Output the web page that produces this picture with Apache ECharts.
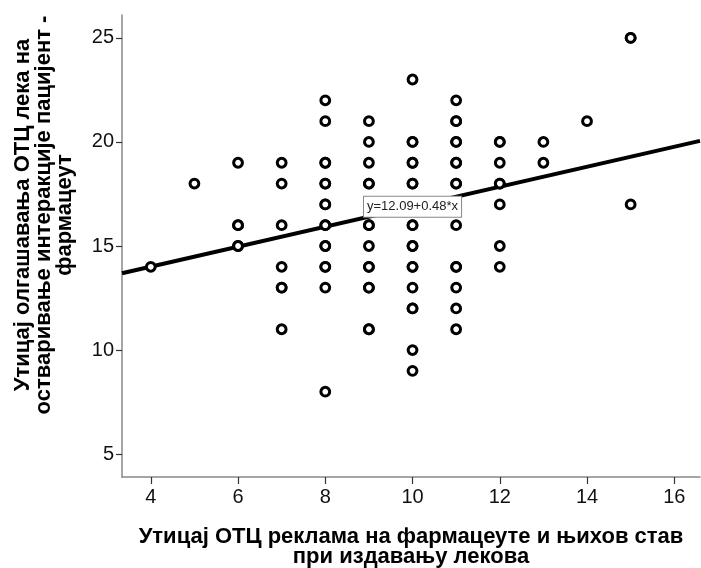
<!DOCTYPE html>
<html><head><meta charset="utf-8">
<script src="https://cdn.jsdelivr.net/npm/echarts@6/dist/echarts.min.js"></script>
<style>html,body{margin:0;padding:0;background:#fff}#c{width:701px;height:568px}</style>
</head><body><div id="c"></div>
<script>
// Observed points: [x, y, overlapCount]
const points = [
  [4,14,1],
  [5,18,1],
  [6,19,1],[6,16,2],[6,15,2],
  [7,19,1],[7,18,1],[7,16,1],[7,14,1],[7,13,2],[7,11,1],
  [8,22,1],[8,21,1],[8,19,2],[8,18,2],[8,17,2],[8,16,2],[8,15,2],[8,14,2],[8,13,1],[8,8,1],
  [9,21,1],[9,20,1],[9,19,1],[9,18,2],[9,16,2],[9,15,1],[9,14,2],[9,13,2],[9,11,2],
  [10,23,1],[10,20,2],[10,19,2],[10,18,2],[10,16,2],[10,15,2],[10,14,2],[10,13,1],[10,12,2],[10,10,1],[10,9,1],
  [11,22,1],[11,21,2],[11,20,2],[11,19,2],[11,18,2],[11,16,1],[11,14,2],[11,13,1],[11,12,1],[11,11,1],
  [12,20,2],[12,19,1],[12,18,2],[12,17,1],[12,15,1],[12,14,1],
  [13,20,1],[13,19,1],
  [14,21,1],
  [15,25,2],[15,17,1]
];
const fitIntercept = 12.09;
const fitSlope = 0.48;
const fitLabel = 'y=12.09+0.48*x';
const xRange = [3.34, 16.59];
const yRange = [3.9, 26.1];
const xTicks = [4, 6, 8, 10, 12, 14, 16];
const yTicks = [5, 10, 15, 20, 25];
const xName = 'Утицај ОТЦ реклама на фармацеуте и њихов став\nпри издавању лекова';
const yName = 'Утицај олгашавања ОТЦ лека на\nостваривање интеракције пацијент -\nфармацеут';

const scatterData = [];
points.forEach(p => { for (let i = 0; i < p[2]; i++) scatterData.push([p[0], p[1]]); });
const fitData = xRange.map(x => [x, fitIntercept + fitSlope * x]);
const labelX = 10;

const font = '"Liberation Sans", Arial, sans-serif';
const chart = echarts.init(document.getElementById('c'), null, {renderer: 'canvas'});
chart.setOption({
  animation: false,
  backgroundColor: '#fff',
  grid: {left: 122, right: 1, top: 15, bottom: 91, outerBoundsMode: 'none', containLabel: false},
  xAxis: {
    type: 'value', min: xRange[0], max: xRange[1],
    name: xName, nameLocation: 'middle', nameGap: 50,
    nameTextStyle: {fontFamily: font, fontSize: 22, fontWeight: 'bold', color: '#000', lineHeight: 20},
    axisLine: {show: true, lineStyle: {color: '#888', width: 1.5}},
    axisTick: {show: true, customValues: xTicks, length: 7, lineStyle: {color: '#333', width: 1.2}},
    axisLabel: {customValues: xTicks, fontFamily: font, fontSize: 20, color: '#111', margin: 10},
    splitLine: {show: false}
  },
  yAxis: {
    type: 'value', min: yRange[0], max: yRange[1],
    name: yName, nameLocation: 'middle', nameGap: 47, nameRotate: 90,
    nameTextStyle: {fontFamily: font, fontSize: 22, fontWeight: 'bold', color: '#000', lineHeight: 21, padding: [0, 0, 0, 62]},
    axisLine: {show: true, lineStyle: {color: '#888', width: 1.5}},
    axisTick: {show: true, customValues: yTicks, length: 6, lineStyle: {color: '#333', width: 1.2}},
    axisLabel: {customValues: yTicks, fontFamily: font, fontSize: 20, color: '#111', margin: 8},
    splitLine: {show: false}
  },
  series: [
    {
      type: 'line', data: fitData, symbol: 'none', z: 3,
      lineStyle: {color: '#000', width: 4},
      markPoint: {
        symbol: 'rect', symbolSize: 1, itemStyle: {color: 'rgba(0,0,0,0)'},
        data: [{coord: [labelX, fitIntercept + fitSlope * labelX]}],
        label: {
          show: true, position: 'inside', formatter: fitLabel,
          fontFamily: font, fontSize: 13, color: '#222',
          backgroundColor: '#fff', borderColor: '#888', borderWidth: 1,
          padding: [4, 3, 3, 3]
        },
        z: 10
      }
    },
    {
      type: 'scatter', data: scatterData, symbol: 'circle', symbolSize: 8.8, z: 4,
      itemStyle: {color: '#fff', borderColor: '#000', borderWidth: 3, opacity: 1}
    }
  ]
});
</script></body></html>
